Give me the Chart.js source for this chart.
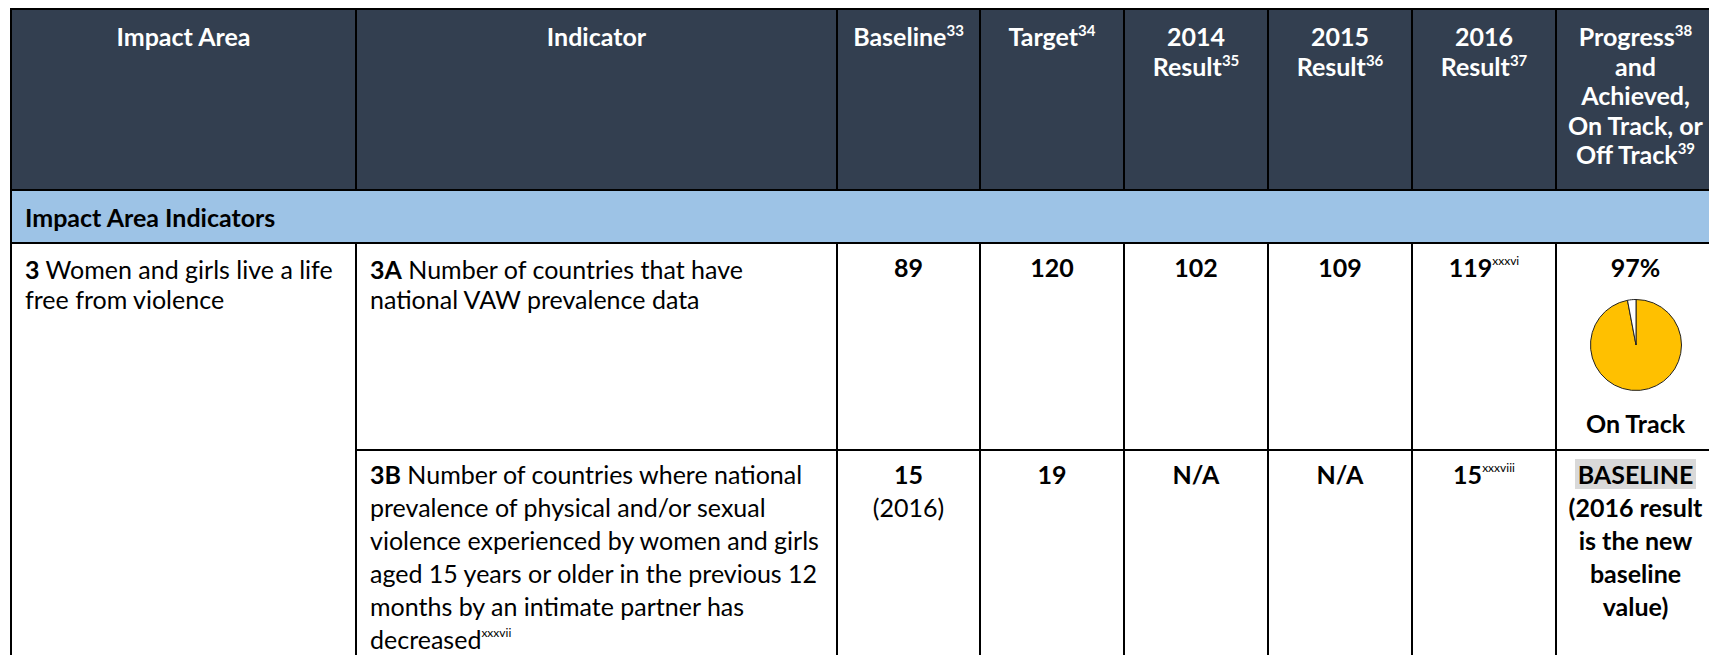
<!DOCTYPE html>
<html>
<head>
<meta charset="utf-8">
<script src="https://cdn.jsdelivr.net/npm/chart.js@4.4.1/dist/chart.umd.min.js"></script>
<style>
  html, body { margin: 0; padding: 0; background: #fff; }
  body {
    width: 1709px; height: 655px; overflow: hidden; position: relative;
    font-family: Lato, 'Open Sans', sans-serif; color: #000;
  }
  table {
    position: absolute; left: 10px; top: 8px; width: 1704px;
    border-collapse: collapse; table-layout: fixed;
  }
  th, td { border: 2px solid #000; padding: 0; vertical-align: top; }
  thead th {
    background: #333f50; color: #fff; font-weight: 700;
    font-size: 25px; line-height: 29.5px; text-align: center; padding-top: 12px;
    white-space: nowrap;
  }
  .band td {
    background: #9dc3e6; font-weight: 700; font-size: 25px;
    padding-left: 13px; vertical-align: middle;
  }
  .text { font-size: 25px; line-height: 33px; padding: 7px 10px 0 13px; white-space: nowrap; }
  .text.tight { line-height: 30px; padding-top: 10px; }
  .val { font-size: 25px; line-height: 33px; padding-top: 7px; text-align: center; font-weight: 700; white-space: nowrap; }
  .val .plain { font-weight: 400; }
  sup.n { font-size: 15px; line-height: 0; vertical-align: baseline; position: relative; top: -10px; }
  sup.r { font-size: 12px; font-weight: 400; line-height: 0; vertical-align: baseline; position: relative; top: -12px; }
  .hl { background: #d9d9d9; padding: 0 3px; }
  .pie { width: 94px; height: 94px; margin: 14px auto 0; position: relative; }
  .status { margin-top: 15px; }
</style>
</head>
<body>
<table id="tbl"></table>
<script>
// Column headers (text, footnote number)
const headerText = ['Impact Area', 'Indicator', 'Baseline', 'Target', '2014<br>Result', '2015<br>Result', '2016<br>Result',
  'Progress|and<br>Achieved,<br>On Track, or<br>Off Track'];
const headerNotes = [null, null, 33, 34, 35, 36, 37, [38, 39]];
const colWidths = [345, 481, 143, 144, 144, 144, 144, 159];

const sectionTitle = 'Impact Area Indicators';
const impactCode = '3';
const impactText = 'Women and girls live a life<br>free from violence';

// Indicators
const indicatorCodes = ['3A', '3B'];
const indicatorText = [
  'Number of countries that have<br>national VAW prevalence data',
  'Number of countries where national<br>prevalence of physical and/or sexual<br>violence experienced by women and girls<br>aged 15 years or older in the previous 12<br>months by an intimate partner has<br>decreased'
];
const indicatorNotes = [null, 'xxxvii'];

// Values
const baseline = ['89', '15'];
const baselineYear = [null, '(2016)'];
const target = ['120', '19'];
const result2014 = ['102', 'N/A'];
const result2015 = ['109', 'N/A'];
const result2016 = ['119', '15'];
const result2016Notes = ['xxxvi', 'xxxviii'];

// Progress pie for 3A
const progressLabels = ['Achieved', 'Remaining'];
const progressValues = [97, 3];
const progressStatus = 'On Track';

function sup(n, cls) { return n ? `<sup class="${cls}">${n}</sup>` : ''; }

let html = '<colgroup>' + colWidths.map(w => `<col style="width:${w}px">`).join('') + '</colgroup>';

// header
html += '<thead><tr style="height:181px">';
headerText.forEach((h, i) => {
  const note = headerNotes[i];
  let cell;
  if (Array.isArray(note)) {
    const parts = h.split('|');
    cell = parts[0] + sup(note[0], 'n') + '<br>' + parts[1] + sup(note[1], 'n');
  } else {
    cell = h + sup(note, 'n');
  }
  html += `<th>${cell}</th>`;
});
html += '</tr></thead><tbody>';

// section band
html += `<tr class="band" style="height:53px"><td colspan="8">${sectionTitle}</td></tr>`;

// indicator rows
indicatorCodes.forEach((code, i) => {
  const tight = i === 0 ? ' tight' : '';
  html += `<tr style="height:${i === 0 ? 207 : 260}px">`;
  if (i === 0) {
    html += `<td class="text tight" rowspan="2"><b>${impactCode}</b> ${impactText}</td>`;
  }
  html += `<td class="text${tight}"><b>${code}</b> ${indicatorText[i]}${sup(indicatorNotes[i], 'r')}</td>`;
  html += `<td class="val">${baseline[i]}${baselineYear[i] ? '<br><span class="plain">' + baselineYear[i] + '</span>' : ''}</td>`;
  html += `<td class="val">${target[i]}</td>`;
  html += `<td class="val">${result2014[i]}</td>`;
  html += `<td class="val">${result2015[i]}</td>`;
  html += `<td class="val">${result2016[i]}${sup(result2016Notes[i], 'r')}</td>`;
  if (i === 0) {
    html += `<td class="val">${progressValues[0]}%<div class="pie"><canvas id="progressPie"></canvas></div><div class="status">${progressStatus}</div></td>`;
  } else {
    html += `<td class="val"><span class="hl">BASELINE</span><br>(2016 result<br>is the new<br>baseline<br>value)</td>`;
  }
  html += '</tr>';
});
html += '</tbody>';
document.getElementById('tbl').innerHTML = html;

// Progress pie
new Chart(document.getElementById('progressPie'), {
  type: 'pie',
  data: {
    labels: progressLabels,
    datasets: [{
      data: progressValues,
      backgroundColor: ['#ffc000', '#ffffff'],
      borderColor: '#222222',
      borderWidth: 1
    }]
  },
  options: {
    responsive: true,
    maintainAspectRatio: false,
    animation: false,
    layout: { padding: 1 },
    plugins: {
      legend: { display: false },
      tooltip: { enabled: false }
    }
  }
});
</script>
</body>
</html>
